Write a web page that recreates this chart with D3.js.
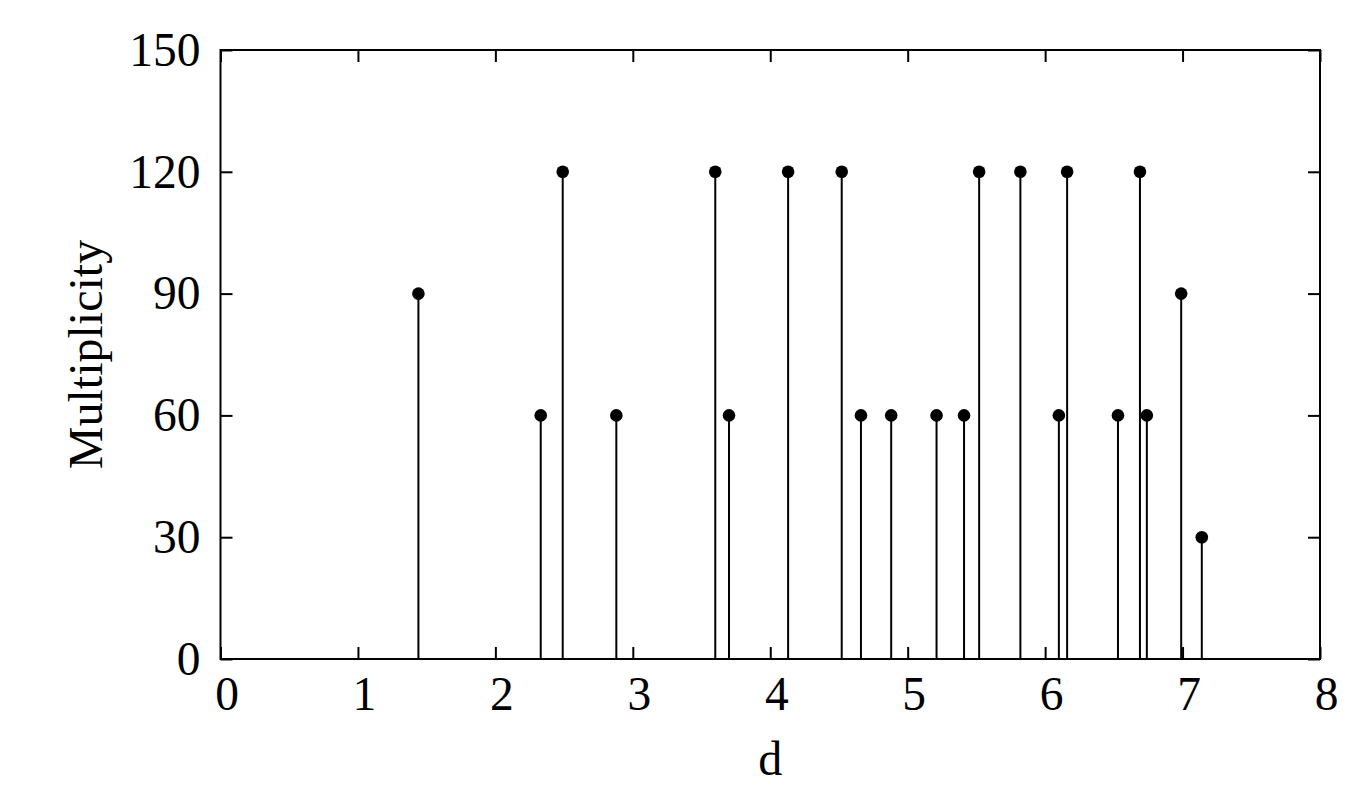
<!DOCTYPE html>
<html>
<head>
<meta charset="utf-8">
<script src="https://cdn.jsdelivr.net/npm/d3@7"></script>
<style>
  html, body { margin: 0; padding: 0; background: #fff; }
  svg { display: block; }
</style>
</head>
<body>
<script>
// Data
const distances = [1.44, 2.33, 2.49, 2.88, 3.60, 3.70, 4.13, 4.52, 4.66, 4.88, 5.21, 5.41, 5.52, 5.82, 6.10, 6.16, 6.53, 6.69, 6.74, 6.99, 7.14];
const multiplicity = [90, 60, 120, 60, 120, 60, 120, 120, 60, 60, 60, 60, 120, 120, 60, 120, 60, 120, 60, 90, 30];
const xTicks = [0, 1, 2, 3, 4, 5, 6, 7, 8];
const yTicks = [0, 30, 60, 90, 120, 150];
const xTitle = "d";
const yTitle = "Multiplicity";

const W = 1359, H = 794;
const plotLeft = 220.5, plotRight = 1320, plotTop = 50, plotBottom = 659;
const font = "'Liberation Serif', 'Times New Roman', serif";

const svg = d3.select("body").append("svg").attr("width", W).attr("height", H);

const x = d3.scaleLinear().domain([0, 8]).range([plotLeft, plotRight]);
const y = d3.scaleLinear().domain([0, 150]).range([plotBottom, plotTop]);

const data = distances.map((d, i) => ({ d, m: multiplicity[i] }));

// stems
svg.append("g").selectAll("line").data(data).join("line")
  .attr("x1", p => x(p.d)).attr("x2", p => x(p.d))
  .attr("y1", y(0)).attr("y2", p => y(p.m))
  .attr("stroke", "#000").attr("stroke-width", 2);

// dots
svg.append("g").selectAll("circle").data(data).join("circle")
  .attr("cx", p => x(p.d)).attr("cy", p => y(p.m)).attr("r", 6.3)
  .attr("fill", "#000");

function styleAxis(g, showLabels) {
  g.select(".domain").remove();
  g.selectAll(".tick line").attr("stroke", "#000").attr("stroke-width", 2);
  g.selectAll(".tick text").attr("fill", "#000")
    .style("font-family", font).style("font-size", "47.5px");
  if (!showLabels) g.selectAll(".tick text").remove();
}

svg.append("g").attr("transform", `translate(0,${plotBottom})`)
  .call(d3.axisBottom(x).tickValues(xTicks).tickFormat(d3.format("d")).tickSize(-12).tickPadding(17))
  .call(g => styleAxis(g, true))
  .call(g => g.selectAll(".tick text").attr("dx", 6));

svg.append("g").attr("transform", `translate(0,${plotTop})`)
  .call(d3.axisTop(x).tickValues(xTicks).tickSize(-12))
  .call(g => styleAxis(g, false));

svg.append("g").attr("transform", `translate(${plotLeft},0)`)
  .call(d3.axisLeft(y).tickValues(yTicks).tickFormat(d3.format("d")).tickSize(-12).tickPadding(20))
  .call(g => styleAxis(g, true));

svg.append("g").attr("transform", `translate(${plotRight},0)`)
  .call(d3.axisRight(y).tickValues(yTicks).tickSize(-12))
  .call(g => styleAxis(g, false));

// frame
svg.append("rect")
  .attr("x", plotLeft).attr("y", plotTop).attr("width", plotRight - plotLeft).attr("height", plotBottom - plotTop)
  .attr("fill", "none").attr("stroke", "#000").attr("stroke-width", 2);

// titles
svg.append("text").attr("x", (plotLeft + plotRight) / 2).attr("y", 775)
  .attr("text-anchor", "middle").style("font-family", font).style("font-size", "48px")
  .text(xTitle);

svg.append("text")
  .attr("transform", `translate(102,${(plotTop + plotBottom) / 2}) rotate(-90)`)
  .attr("text-anchor", "middle").style("font-family", font).style("font-size", "48px")
  .text(yTitle);
</script>
</body>
</html>
